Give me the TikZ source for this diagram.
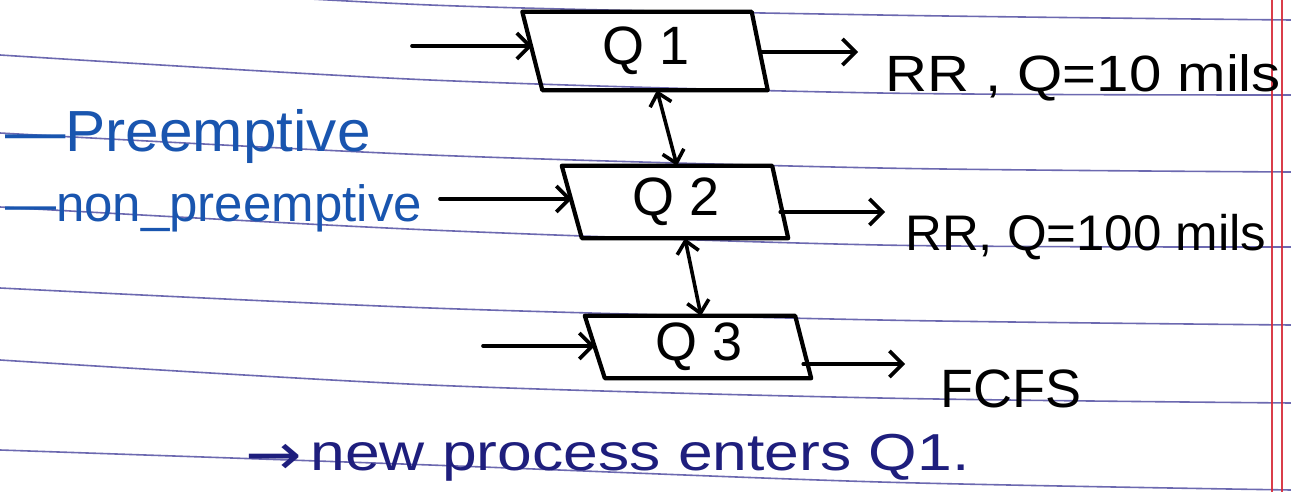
\documentclass[tikz,border=0pt]{standalone}
\usepackage{fontspec}
\setmainfont{Liberation Sans}
\newfontfamily\symfont{DejaVu Sans}
\usetikzlibrary{arrows.meta}
\definecolor{inkblue}{RGB}{25,85,175}
\definecolor{navyink}{RGB}{30,30,125}
\definecolor{ruling}{RGB}{60,55,150}
\definecolor{marginred}{RGB}{215,40,55}
\begin{document}
\begin{tikzpicture}[x=1pt,y=-1pt, line cap=round, line join=round,
  ink/.style={line width=4.2pt, black},
  arr/.style={ink, line width=3.6pt, -{Straight Barb[length=13pt,width=26pt]}},
  darr/.style={ink, line width=3.6pt, {Straight Barb[length=12pt,width=22pt]}-{Straight Barb[length=12pt,width=22pt]}},
  qbox/.style={inner sep=0pt, font=\fontsize{54}{58}\selectfont},
  lbl/.style={anchor=base west, inner sep=0pt},
  rulingline/.style={ruling, line width=1.6pt, opacity=.75},
  marginline/.style={marginred, line width=1.6pt, opacity=.9}]
\fill[white] (0,0) rectangle (1291,492);
\useasboundingbox (0,0) rectangle (1291,492);
\begin{scope}
\clip (0,0) rectangle (1291,492);
\draw[rulingline] plot[smooth] coordinates {(0,-20) (430,5) (880,15) (1291,20)};
\draw[rulingline] plot[smooth] coordinates {(0,55) (430,80) (880,93) (1291,95)};
\draw[rulingline] plot[smooth] coordinates {(0,133) (430,155) (880,168) (1291,172)};
\draw[rulingline] plot[smooth] coordinates {(0,207) (430,230) (880,245) (1291,247)};
\draw[rulingline] plot[smooth] coordinates {(0,288) (430,308) (880,320) (1291,325)};
\draw[rulingline] plot[smooth] coordinates {(0,360) (430,385) (880,398) (1291,403)};
\draw[rulingline] plot[smooth] coordinates {(0,450) (430,465) (880,482) (1291,490)};
\draw[marginline] (1272,0) -- (1272,492);
\draw[marginline] (1282,0) -- (1282,492);
\end{scope}

% queue boxes
\node[qbox, minimum width=227pt, minimum height=78pt] (q1) at (646,51) {Q 1};
\node[qbox, minimum width=208pt, minimum height=72pt] (q2) at (676,202) {Q 2};
\node[qbox, minimum width=208pt, minimum height=62pt] (q3) at (699,347) {Q 3};
\foreach \q in {q1,q2,q3}{
  \draw[ink] ([xshift=-10pt]\q.north west) -- ([xshift=-8pt]\q.north east)
    -- ([xshift=8pt]\q.south east) -- ([xshift=10pt]\q.south west) -- cycle;
}

% free ends
\coordinate (i1) at (412,46);
\coordinate (o1) at (858,52);
\coordinate (i2) at (440,199);
\coordinate (o2) at (885,212);
\coordinate (i3) at (483,346);
\coordinate (o3) at (905,364);

\draw[arr] (i1) -- (i1 -| q1.west);
\draw[arr] (q1.east |- o1) -- (o1);
\draw[arr] (i2) -- (i2 -| q2.west);
\draw[arr] (q2.east |- o2) -- (o2);
\draw[arr] (i3) -- (i3 -| q3.west);
\draw[arr] (q3.east |- o3) -- (o3);

\draw[darr] ([xshift=11pt]q1.south) -- ([xshift=1pt]q2.north);
\draw[darr] ([xshift=9pt]q2.south) -- ([xshift=2pt]q3.north);

% labels
\node[lbl, font=\fontsize{51}{55}\selectfont] (l1) at (885,92) {\scalebox{1.14}[1]{RR , Q=10 mils}};
\node[lbl, font=\fontsize{50}{55}\selectfont] (l2) at (905,250) {\scalebox{1.02}[1]{RR, Q=100 mils}};
\node[lbl, font=\fontsize{54}{58}\selectfont] (l3) at (940,407) {FCFS};

\node[lbl, inkblue, font=\fontsize{58}{62}\selectfont] (pre) at (5,152) {\scalebox{1.04}[1]{—Preemptive}};
\node[lbl, inkblue, font=\fontsize{51}{55}\selectfont] (nonpre) at (5,222) {—non\_preemptive};

\node[lbl, navyink, font=\fontsize{52}{56}\selectfont] (note) at (245,470) {\raisebox{-4pt}{\scalebox{1.3}[1.1]{\symfont →}}\,\scalebox{1.2}[1]{new process enters Q1.}};
\end{tikzpicture}
\end{document}
